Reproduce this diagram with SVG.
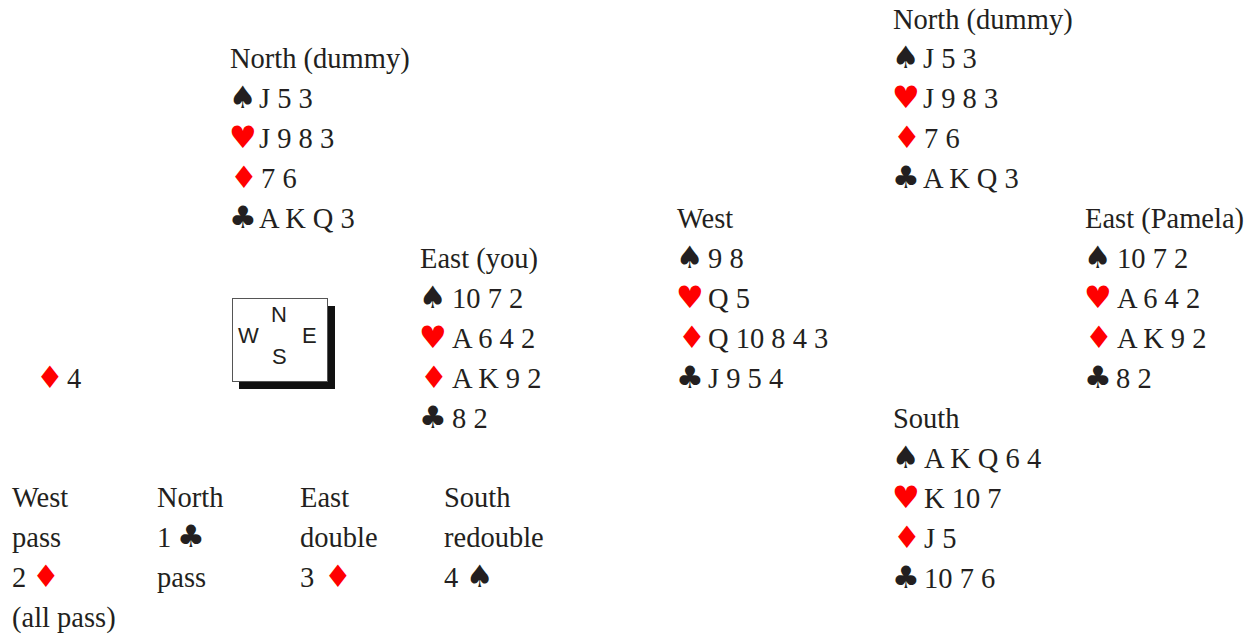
<svg xmlns="http://www.w3.org/2000/svg" width="1249" height="635" viewBox="0 0 1249 635">
<style>
.t{font-family:"Liberation Serif","Times New Roman",serif;font-size:28.5px;fill:#231f20}
.s{font-family:"DejaVu Sans",sans-serif;font-size:31px}
.b{fill:#231f20}
.r{fill:#ff0000}
.c{font-family:"Liberation Sans",Arial,sans-serif;font-size:22px;fill:#231f20}
</style>
<rect width="1249" height="635" fill="#ffffff"/>
<g id="north-left">
<text class="t" x="230" y="68">North (dummy)</text>
<text class="s b" x="229" y="108">♠</text><text class="t" x="259" y="108">J 5 3</text>
<text class="s r" x="229" y="148">♥</text><text class="t" x="259" y="148">J 9 8 3</text>
<text class="s r" x="230" y="188">♦</text><text class="t" x="261" y="188">7 6</text>
<text class="s b" x="229" y="228">♣</text><text class="t" x="259" y="228">A K Q 3</text>
</g>
<g id="east-you">
<text class="t" x="420" y="268">East (you)</text>
<text class="s b" x="419" y="308">♠</text><text class="t" x="452" y="308">10 7 2</text>
<text class="s r" x="419" y="348">♥</text><text class="t" x="452" y="348">A 6 4 2</text>
<text class="s r" x="420" y="388">♦</text><text class="t" x="452" y="388">A K 9 2</text>
<text class="s b" x="419" y="428">♣</text><text class="t" x="452" y="428">8 2</text>
</g>
<g id="compass">
<rect x="239" y="306" width="96" height="83" fill="#111111"/>
<rect x="232.5" y="298.5" width="95" height="83" fill="#ffffff" stroke="#555555" stroke-width="1"/>
<text class="c" x="271" y="322">N</text>
<text class="c" x="238" y="343">W</text>
<text class="c" x="302" y="343">E</text>
<text class="c" x="272" y="364">S</text>
</g>
<g id="lead">
<text class="s r" x="36" y="388">♦</text><text class="t" x="67" y="388">4</text>
</g>
<g id="bidding">
<text class="t" x="12" y="507">West</text>
<text class="t" x="157" y="507">North</text>
<text class="t" x="300" y="507">East</text>
<text class="t" x="444" y="507">South</text>
<text class="t" x="12" y="547">pass</text>
<text class="t" x="157" y="547">1</text><text class="s b" x="177" y="547">♣</text>
<text class="t" x="300" y="547">double</text>
<text class="t" x="444" y="547">redouble</text>
<text class="t" x="12" y="587">2</text><text class="s r" x="32" y="587">♦</text>
<text class="t" x="157" y="587">pass</text>
<text class="t" x="300" y="587">3</text><text class="s r" x="324" y="587">♦</text>
<text class="t" x="444" y="587">4</text><text class="s b" x="466" y="587">♠</text>
<text class="t" x="12" y="627">(all pass)</text>
</g>
<g id="west">
<text class="t" x="677" y="228">West</text>
<text class="s b" x="676" y="268">♠</text><text class="t" x="708" y="268">9 8</text>
<text class="s r" x="676" y="308">♥</text><text class="t" x="708" y="308">Q 5</text>
<text class="s r" x="678" y="348">♦</text><text class="t" x="708" y="348">Q 10 8 4 3</text>
<text class="s b" x="676" y="388">♣</text><text class="t" x="708" y="388">J 9 5 4</text>
</g>
<g id="north-right">
<text class="t" x="893" y="29">North (dummy)</text>
<text class="s b" x="892" y="68">♠</text><text class="t" x="923" y="68">J 5 3</text>
<text class="s r" x="892" y="108">♥</text><text class="t" x="923" y="108">J 9 8 3</text>
<text class="s r" x="893" y="148">♦</text><text class="t" x="924" y="148">7 6</text>
<text class="s b" x="892" y="188">♣</text><text class="t" x="923" y="188">A K Q 3</text>
</g>
<g id="east-pamela">
<text class="t" x="1085" y="228">East (Pamela)</text>
<text class="s b" x="1084" y="268">♠</text><text class="t" x="1117" y="268">10 7 2</text>
<text class="s r" x="1084" y="308">♥</text><text class="t" x="1117" y="308">A 6 4 2</text>
<text class="s r" x="1085" y="348">♦</text><text class="t" x="1117" y="348">A K 9 2</text>
<text class="s b" x="1084" y="388">♣</text><text class="t" x="1116" y="388">8 2</text>
</g>
<g id="south">
<text class="t" x="893" y="428">South</text>
<text class="s b" x="892" y="468">♠</text><text class="t" x="924" y="468">A K Q 6 4</text>
<text class="s r" x="892" y="508">♥</text><text class="t" x="924" y="508">K 10 7</text>
<text class="s r" x="893" y="548">♦</text><text class="t" x="924" y="548">J 5</text>
<text class="s b" x="892" y="588">♣</text><text class="t" x="924" y="588">10 7 6</text>
</g>
</svg>
